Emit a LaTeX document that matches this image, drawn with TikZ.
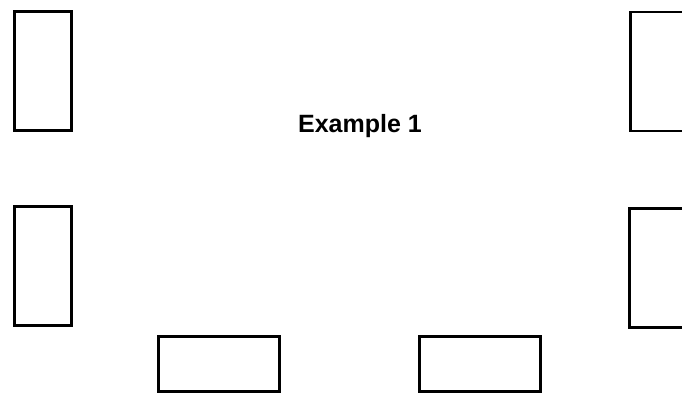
\documentclass[tikz,border=0pt]{standalone}
\usepackage{fontspec}
\setmainfont{Liberation Sans}

\begin{document}
\begin{tikzpicture}[x=1pt,y=-1pt,
  tallbox/.style={draw,line width=2.8pt,minimum width=57pt,minimum height=119pt,inner sep=0pt},
  widebox/.style={draw,line width=2.8pt,minimum width=121pt,minimum height=55pt,inner sep=0pt}]
  \useasboundingbox (0,0) rectangle (682,397);
  \clip (0,0) rectangle (682,397);
  % upright boxes at the sides
  \node[tallbox] (leftTop) at (43,71) {};
  \node[tallbox] (leftBottom) at (43,266) {};
  \node[tallbox] (rightTop) at (659,71.5) {};
  \node[tallbox] (rightBottom) at (658,268) {};
  % flat boxes at the bottom
  \node[widebox] (bottomLeft) at (219,364) {};
  \node[widebox] (bottomRight) at (480,364) {};
  \node[font=\fontsize{25}{28}\selectfont\bfseries] (title) at (360,126) {Example 1};
\end{tikzpicture}
\end{document}
